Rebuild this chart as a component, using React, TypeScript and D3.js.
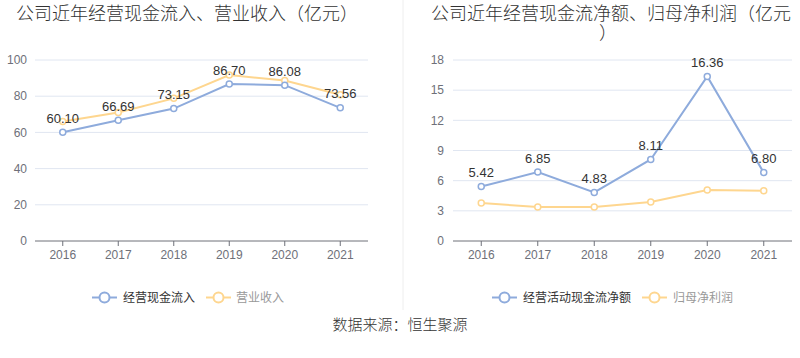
import React from 'react';
import * as d3 from 'd3';

const years = ['2016', '2017', '2018', '2019', '2020', '2021'];
const cashInflow = [60.10, 66.69, 73.15, 86.70, 86.08, 73.56];
const revenue = [66.0, 71.0, 78.8, 91.7, 88.7, 80.8];
const netCashFlow = [5.42, 6.85, 4.83, 8.11, 16.36, 6.80];
const netProfit = [3.78, 3.38, 3.38, 3.88, 5.07, 5.0];
const leftTicks = [0, 20, 40, 60, 80, 100];
const rightTicks = [0, 3, 6, 9, 12, 15, 18];

const BLUE = '#8eabdc';
const YELLOW = '#fed68f';
const FONT = '"Liberation Sans", "Noto Sans CJK SC", sans-serif';

type PanelProps = {
  x0: number; x1: number; yTop: number; yBottom: number;
  max: number; ticks: number[];
  main: number[]; second: number[];
  labelX: number;
};

function Panel({ x0, x1, yTop, yBottom, max, ticks, main, second, labelX }: PanelProps) {
  const x = d3.scaleBand<string>().domain(years).range([x0, x1]);
  const y = d3.scaleLinear().domain([0, max]).range([yBottom, yTop]);
  const cx = (d: string) => (x(d) as number) + x.bandwidth() / 2;
  const line = d3.line<number>().x((_, i) => cx(years[i])).y((v) => y(v));
  return (
    <g>
      {ticks.map((t) => (
        <g key={t}>
          {t !== 0 && <line x1={x0} x2={x1} y1={y(t)} y2={y(t)} stroke="#e0e6f1" strokeWidth={1} />}
          <text x={labelX} y={y(t)} dy="0.35em" textAnchor="end" fontSize={12} fill="#6e7079" fontFamily={FONT}>{t}</text>
        </g>
      ))}
      <line x1={x0} x2={x1} y1={yBottom} y2={yBottom} stroke="#6e7079" strokeWidth={1} />
      {years.map((yr) => (
        <g key={yr}>
          <line x1={cx(yr)} x2={cx(yr)} y1={yBottom} y2={yBottom + 5} stroke="#6e7079" />
          <text x={cx(yr)} y={yBottom + 14} dy="0.35em" textAnchor="middle" fontSize={12} fill="#6e7079" fontFamily={FONT}>{yr}</text>
        </g>
      ))}
      <path d={line(second) || ''} fill="none" stroke={YELLOW} strokeWidth={2} />
      {second.map((v, i) => (
        <circle key={i} cx={cx(years[i])} cy={y(v)} r={3} fill="#fff" stroke={YELLOW} strokeWidth={1.5} />
      ))}
      <path d={line(main) || ''} fill="none" stroke={BLUE} strokeWidth={2} />
      {main.map((v, i) => (
        <circle key={i} cx={cx(years[i])} cy={y(v)} r={3} fill="#fff" stroke={BLUE} strokeWidth={1.5} />
      ))}
      {main.map((v, i) => (
        <text key={i} x={cx(years[i])} y={y(v) - 14} dy="0.35em" textAnchor="middle" fontSize={13} fill="#333" fontFamily={FONT}>{v.toFixed(2)}</text>
      ))}
    </g>
  );
}

function LegendIcon({ x, y, color }: { x: number; y: number; color: string }) {
  return (
    <g>
      <line x1={x} x2={x + 25} y1={y} y2={y} stroke={color} strokeWidth={2} />
      <circle cx={x + 12.5} cy={y} r={5} fill="#fff" stroke={color} strokeWidth={2} />
    </g>
  );
}

export default function App() {
  return (
    <svg width={800} height={358} style={{ position: 'absolute', left: 0, top: 0, background: '#fff' }}>
      <rect width={800} height={358} fill="#fff" />
      <line x1={403} x2={403} y1={0} y2={310} stroke="#eeeeee" strokeWidth={1} />
      <text x={16} y={20} fontSize={18} fontWeight={300} fill="#333" fontFamily={FONT}>公司近年经营现金流入、营业收入（亿元）</text>
      <text x={431} y={20} fontSize={18} fontWeight={300} fill="#333" fontFamily={FONT}>公司近年经营现金流净额、归母净利润（亿元</text>
      <text x={608} y={39} fontSize={18} fontWeight={300} fill="#333" fontFamily={FONT} textAnchor="middle">）</text>

      <Panel x0={35} x1={368} yTop={60} yBottom={241} max={100} ticks={leftTicks} main={cashInflow} second={revenue} labelX={27} />
      <Panel x0={453} x1={792} yTop={60} yBottom={241} max={18} ticks={rightTicks} main={netCashFlow} second={netProfit} labelX={444} />

      <LegendIcon x={92} y={297.5} color={BLUE} />
      <text x={123} y={297.5} dy="0.35em" fontSize={12} fill="#333" fontFamily={FONT}>经营现金流入</text>
      <LegendIcon x={206} y={297.5} color={YELLOW} />
      <text x={236} y={297.5} dy="0.35em" fontSize={12} fill="#999" fontFamily={FONT}>营业收入</text>

      <LegendIcon x={492} y={297.5} color={BLUE} />
      <text x={523} y={297.5} dy="0.35em" fontSize={12} fill="#333" fontFamily={FONT}>经营活动现金流净额</text>
      <LegendIcon x={642} y={297.5} color={YELLOW} />
      <text x={673} y={297.5} dy="0.35em" fontSize={12} fill="#999" fontFamily={FONT}>归母净利润</text>

      <text x={400} y={325} dy="0.35em" textAnchor="middle" fontSize={15} fontWeight={300} fill="#333" fontFamily={FONT}>数据来源：恒生聚源</text>
    </svg>
  );
}
